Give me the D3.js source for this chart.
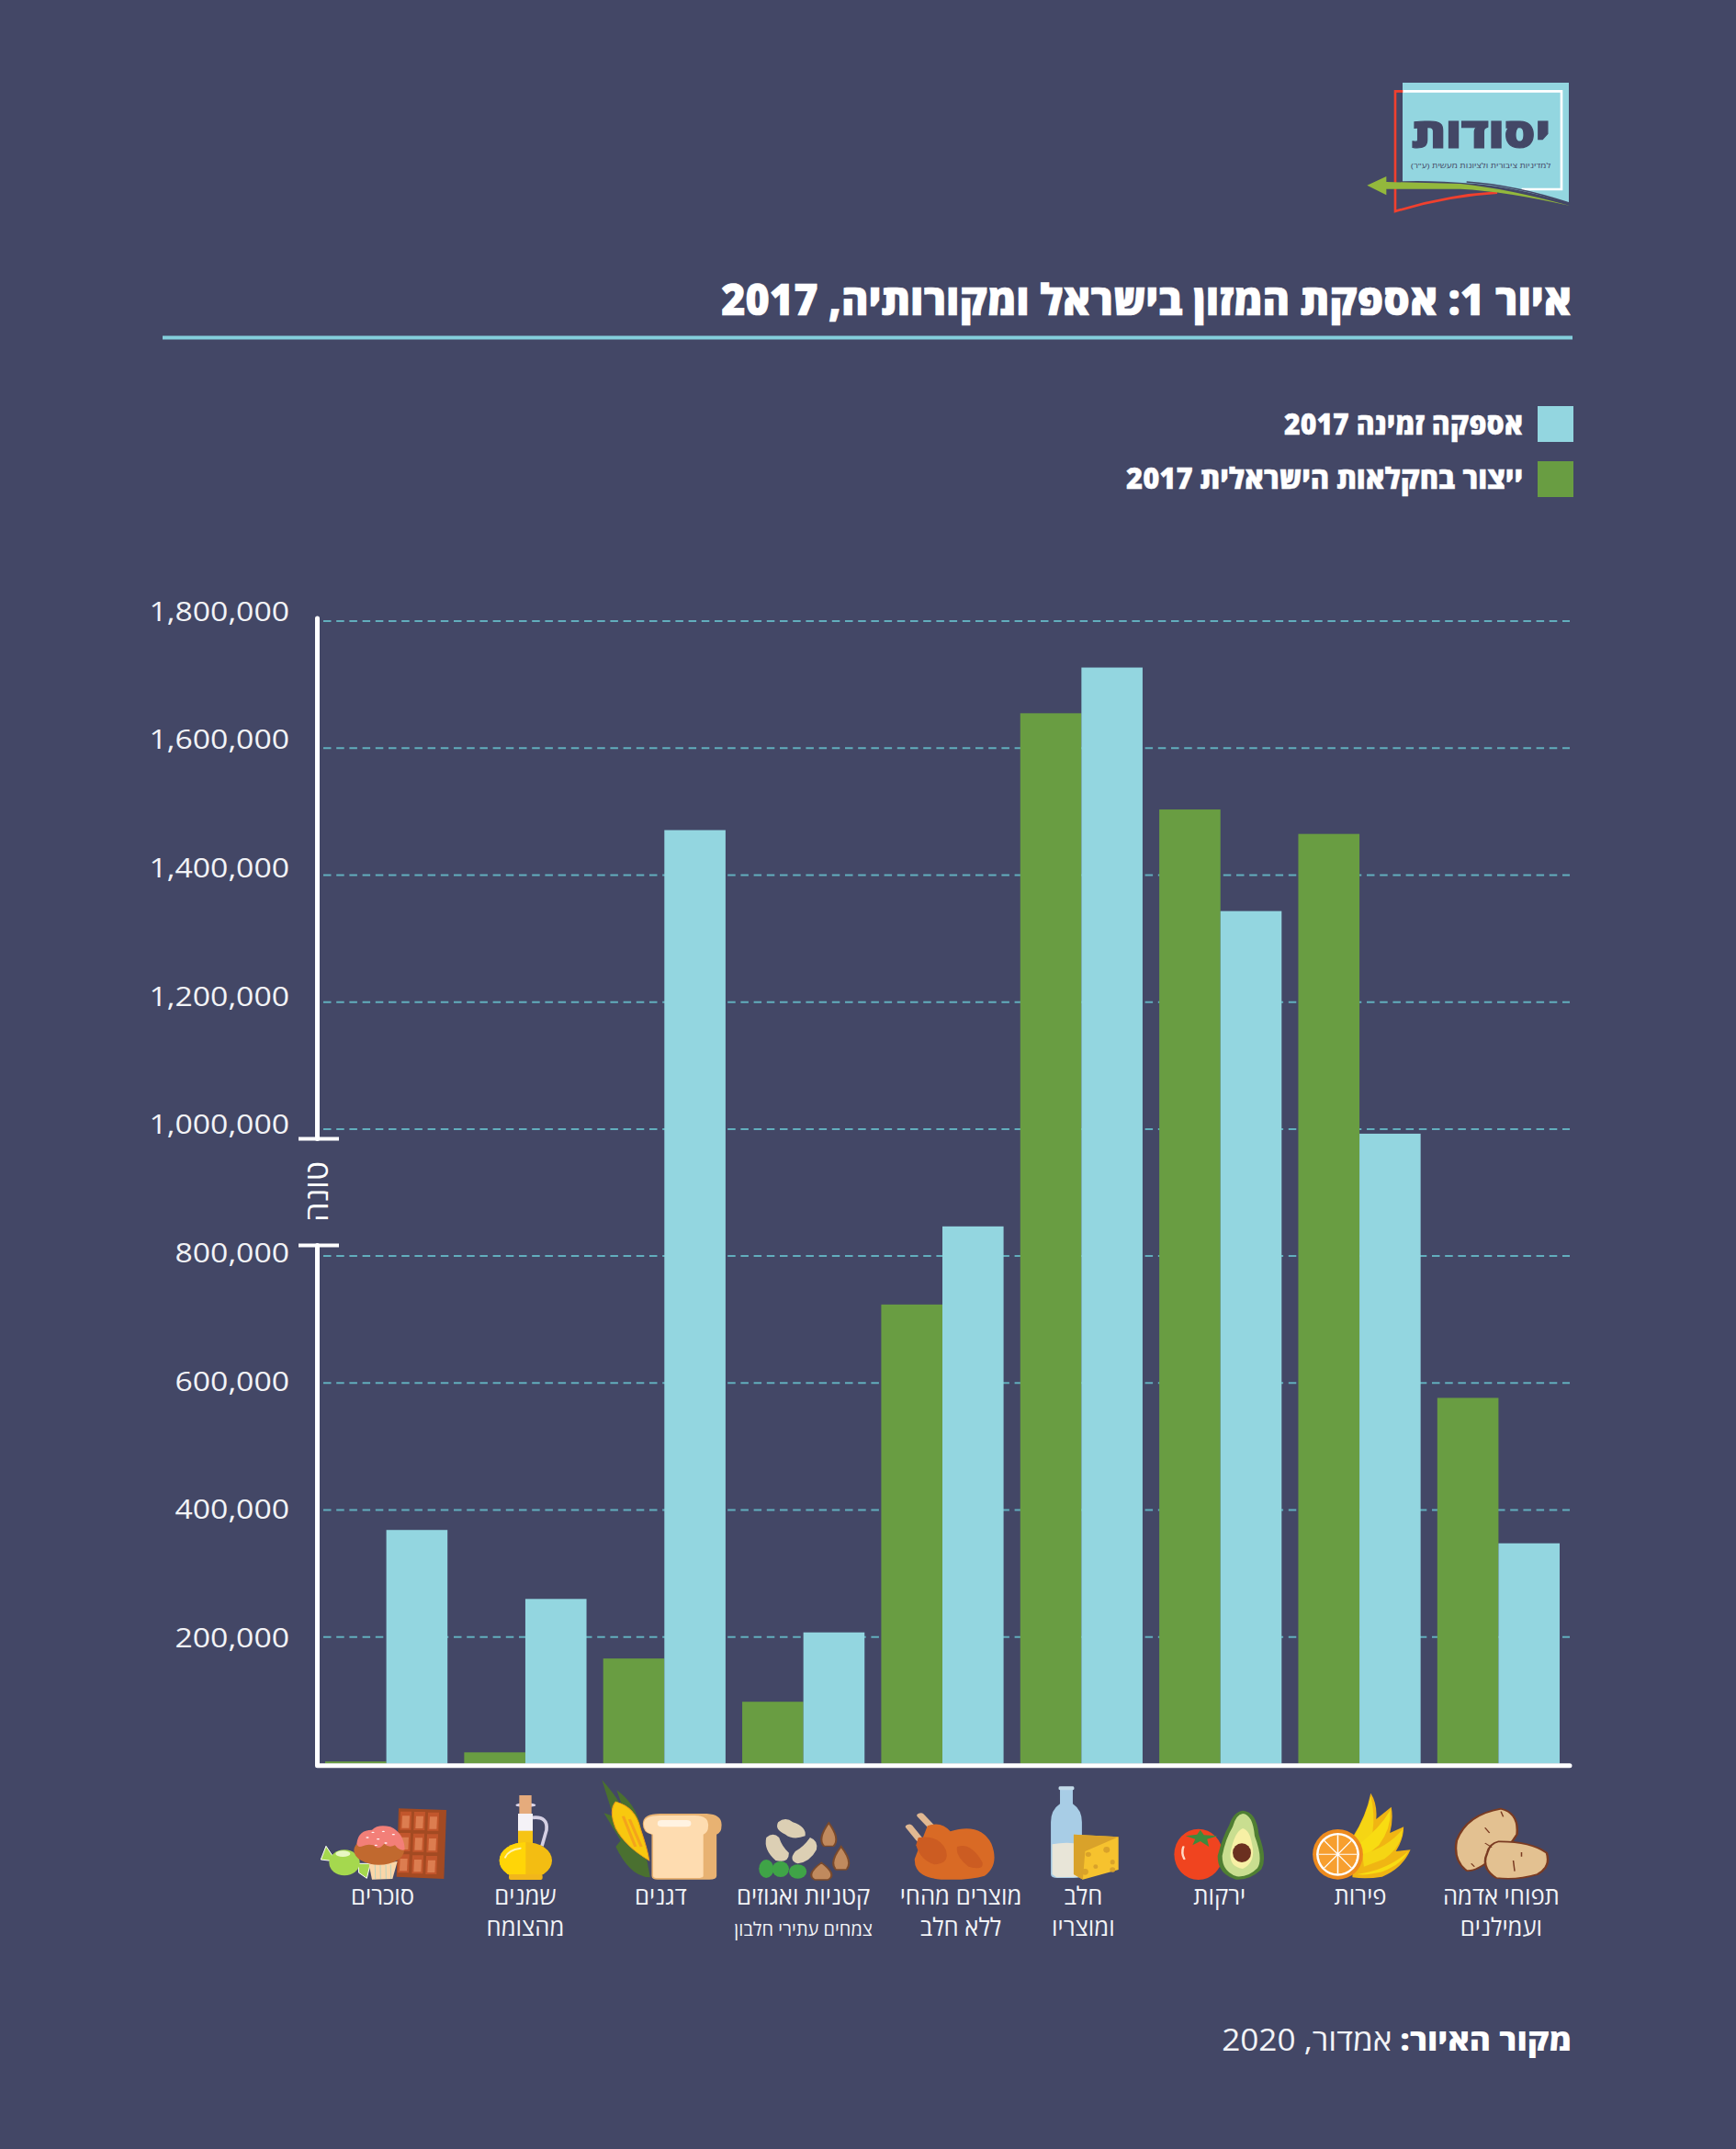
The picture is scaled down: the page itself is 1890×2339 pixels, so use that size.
<!DOCTYPE html>
<html lang="he"><head><meta charset="utf-8">
<script src="https://cdnjs.cloudflare.com/ajax/libs/d3/7.8.5/d3.min.js"></script>
<style>html,body{margin:0;padding:0;background:#434766}svg{display:block}text{font-family:"Open Sans",sans-serif}</style>
</head><body><svg id="c" width="1890" height="2339"></svg>
<script>
const categoryLines=[["סוכרים"],["שמנים","מהצומח"],["דגנים"],["קטניות ואגוזים"],["מוצרים מהחי","ללא חלב"],["חלב","ומוצריו"],["ירקות"],["פירות"],["תפוחי אדמה","ועמילנים"]];
const categorySub=[null,null,null,"צמחים עתירי חלבון",null,null,null,null,null];
const production=[3500,17800,165600,97500,723000,1654000,1502500,1464000,576000];
const supply=[368000,259400,1470000,206700,846000,1726000,1342500,992000,347000];
const tickValues=[200000,400000,600000,800000,1000000,1200000,1400000,1600000,1800000];
const labelShift=[-4,0,-4,0,20,2,-1,1,3];
const C={bg:"#434766",blue:"#93d6e0",green:"#699d42",grid:"#62aebd",white:"#ffffff",text:"#f2f3f6"};

const svg=d3.select("#c");
svg.append("rect").attr("width",1890).attr("height",2339).attr("fill",C.bg);

const y=d3.scaleLinear().domain([0,1800000]).range([1919.6,675.4]);
// the printed tick labels drift slightly from the grid in the source artwork
const yLabel=d3.scaleLinear().domain([200000,1800000]).range([1792.6,675]);
const x0=d3.scaleBand().domain(d3.range(categoryLines.length)).range([354,1698]).paddingInner(0.12).paddingOuter(0);
const x1=d3.scaleBand().domain(["production","supply"]).range([0,x0.bandwidth()]);

function put(parent,x,yy,str,o={}){
  const t=parent.append("text").attr("direction",o.ltr?"ltr":"rtl").attr("text-anchor",o.anchor||"start")
    .attr("font-size",o.size).attr("font-weight",o.weight||400).attr("fill",o.fill||C.text).text(str);
  if(o.stroke) t.attr("stroke",o.fill||C.text).attr("stroke-width",o.stroke);
  let sx=o.sx||1;
  if(o.width){sx=o.width/t.node().getComputedTextLength();}
  const rot=o.rot?` rotate(${o.rot})`:"";
  t.attr("transform",`translate(${x},${yy})${rot} scale(${sx},${o.sy||1})`);
  return t;
}

// header
put(svg,1711,343,"איור 1: אספקת המזון בישראל ומקורותיה, 2017",{size:47,weight:800,width:926,fill:"#fff",stroke:0.7});
svg.append("rect").attr("x",177).attr("y",365.5).attr("width",1535).attr("height",4).attr("fill","#84cfdc");

// legend
const legendItems=[["אספקה זמינה 2017",C.blue,442,472.7,260],["ייצור בחקלאות הישראלית 2017",C.green,502,531.7,432]];
legendItems.forEach(d=>{
  svg.append("rect").attr("x",1674).attr("y",d[2]).attr("width",39).attr("height",39).attr("fill",d[1]);
  put(svg,1658,d[3],d[0],{size:32,weight:800,width:d[4],fill:"#fff",stroke:0.4});
});

// grid + tick labels through the d3 axis
const axis=d3.axisLeft(y).tickValues(tickValues).tickFormat(d3.format(",")).tickSize(-1357).tickPadding(0);
const ag=svg.append("g").attr("transform","translate(352,0)").call(axis);
ag.select(".domain").remove();
ag.selectAll(".tick line").attr("stroke",C.grid).attr("stroke-width",2).attr("stroke-dasharray","8.5 5.7");
ag.selectAll(".tick text").attr("fill",C.text).attr("font-size",30).attr("font-family",'"Open Sans"').attr("dy",0).attr("x",0).attr("y",0)
  .attr("text-anchor","end").attr("transform",v=>`translate(-37,${yLabel(v)-y(v)}) scale(1.125,1)`);

// bars
const groups=svg.selectAll("g.grp").data(categoryLines.map((_,i)=>i)).join("g").attr("class","grp").attr("transform",i=>`translate(${x0(i)},0)`);
groups.append("rect").attr("x",x1("production")).attr("width",x1.bandwidth()).attr("y",i=>y(production[i])).attr("height",i=>y(0)-y(production[i])).attr("fill",C.green);
groups.append("rect").attr("x",x1("supply")).attr("width",x1.bandwidth()).attr("y",i=>y(supply[i])).attr("height",i=>y(0)-y(supply[i])).attr("fill",C.blue);

// axes lines
const axisG=svg.append("g").attr("stroke","#fff").attr("fill","none");
axisG.append("path").attr("d","M345.5,673V1239.6M345.5,1355.5V1921.7H1709").attr("stroke-width",5).attr("stroke-linecap","round").attr("stroke-linejoin","round");
axisG.append("path").attr("d","M325,1239.6H369M325,1355.5H369").attr("stroke-width",4);
put(svg,344,1297,"טונה",{size:34,anchor:"middle",width:66,rot:-90,fill:"#fff"}).attr("dominant-baseline","central");

// category labels
categoryLines.forEach((lines,i)=>{
  const cx=x0(i)+x0.bandwidth()/2+labelShift[i];
  lines.forEach((l,k)=>put(svg,cx,2072.7+k*34.5,l,{size:27,anchor:"middle",sx:.95}));
  if(categorySub[i]) put(svg,cx,2107,categorySub[i],{size:20,anchor:"middle",sx:1});
});

// footer
const f=svg.append("text").attr("direction","rtl").attr("text-anchor","start").attr("font-size",33).attr("fill",C.text);
f.append("tspan").attr("font-weight",800).attr("fill","#fff").text("מקור האיור: ");
f.append("tspan").attr("font-weight",400).text("אמדור, 2020");
f.attr("transform",`translate(1711,2231.7) scale(${381/f.node().getComputedTextLength()},1)`);

// logo (authored in a 3x local frame)
const L=svg.append("g").attr("transform","translate(1450,60) scale(0.33333)");
L.append("path").attr("d","M231,90H774V482Q600,432 470,420Q320,408 231,412Z").attr("fill",C.blue);
L.append("path").attr("d","M231,118H750V438H620").attr("fill","none").attr("stroke","#fff").attr("stroke-width",8);
L.append("path").attr("d","M232,118H207V510Q380,458 540,449").attr("fill","none").attr("stroke","#f0402e").attr("stroke-width",8);
L.append("path").attr("d","M778,484Q600,425 440,414").attr("fill","none").attr("stroke","#434766").attr("stroke-width",5);
L.append("path").attr("d","M778,492Q570,435 420,420L178,414V396L115,425L178,457V437L420,437Q570,445 778,492Z").attr("fill","#93b83c");
put(L,714,303,"יסודות",{size:125,weight:800,width:454,sy:1.1,fill:"#434766",stroke:3});
put(L,715,369,"למדיניות ציבורית ולציונות מעשית (ע\"ר)",{size:24,width:457,fill:"#434766"});

// icons: small decorative drawings
const Z2="translate(140,1900) scale(0.53571,0.33333)", Z3="translate(960,1900) scale(0.49749,0.33333)", Z9="translate(340,1950) scale(0.33333)";
const I2=svg.append("g").attr("transform",Z2), I3=svg.append("g").attr("transform",Z3), I9=svg.append("g").attr("transform",Z9);
const p=(g,d,fill,extra={})=>{const e=g.append("path").attr("d",d).attr("fill",fill);for(const k in extra)e.attr(k,extra[k]);return e;};
const el=(g,cx,cy,rx,ry,fill,extra={})=>{const e=g.append("ellipse").attr("cx",cx).attr("cy",cy).attr("rx",rx).attr("ry",ry).attr("fill",fill);for(const k in extra)e.attr(k,extra[k]);return e;};

// chocolate
p(I9,"M282,55L438,60L430,285L275,278Z","#a34a22");
[[288,65],[333,66],[378,68],[285,135],[330,137],[375,139],[281,205],[327,208],[372,210]].forEach(c=>{
  p(I9,`M${c[0]},${c[1]}h36l-2,60h-36Z`,"#c2562c");
  p(I9,`M${c[0]+6},${c[1]+14}h24l-2,40h-24Z`,"#dc7d50");
});
// candy
p(I9,"M45,178L28,222L78,228Z","#a5d84e",{stroke:"#fff","stroke-width":3});
p(I9,"M150,235L190,235L178,283L152,265Z","#a5d84e",{stroke:"#fff","stroke-width":3});
el(I9,105,232,50,42,"#a5d84e");
el(I9,100,203,24,10,"#e8f7c4");
// muffin
p(I9,"M185,238L278,228L262,285L195,287Z","#fad6a8");
[205,222,240,256].forEach(xx=>p(I9,`M${xx},238L${xx+1},285`,"none",{stroke:"#9ccfc4","stroke-width":2}));
el(I9,218,192,82,47,"#c1692f");
p(I9,"M145,170Q150,125 195,125Q215,105 255,115Q300,135 302,190Q285,195 270,175Q250,185 235,170Q215,195 200,175Q180,170 165,178Q150,185 145,170Z","#f37f78");
[[180,150],[215,155],[232,130],[198,133],[265,140],[240,168],[208,175]].forEach(s=>el(I9,s[0],s[1],5,2,"#fff"));

// oil
p(I9,"M720,85Q770,80 765,125L750,178","none",{stroke:"#d5d0e4","stroke-width":11});
I9.append("rect").attr("x",672).attr("y",72).attr("width",48).attr("height",60).attr("fill","#f4f2f7");
I9.append("rect").attr("x",672).attr("y",128).attr("width",48).attr("height",50).attr("fill","#f6c414");
el(I9,697,225,86,60,"#f3bd12");
p(I9,"M697,165A86,60 0 0 0 697,285Z","#ffd507");
I9.append("rect").attr("x",642).attr("y",270).attr("width",110).attr("height",18).attr("rx",6).attr("fill","#f1b61b");
el(I9,697,44,33,7,"#dcd6ea");
I9.append("rect").attr("x",676).attr("y",12).attr("width",40).attr("height",60).attr("fill","#e5ab7c");
p(I9,"M630,215Q640,190 680,185","none",{stroke:"#fff3b0","stroke-width":6,"stroke-linecap":"round"});

// corn + bread
p(I2,"M962,112Q1000,180 1010,230L992,145Q1030,190 1040,260L1060,430Q1020,430 990,330L1000,310L966,220L985,230Z","#4a7030");
p(I2,"M990,183Q1030,200 1040,270Q1055,340 1058,375Q1010,330 990,270Q975,210 990,183Z","#f8c80f",{stroke:"#f09a1a","stroke-width":2});
p(I2,"M1005,230L1030,330M1018,240L1042,330","none",{stroke:"#f4a41c","stroke-width":6});
p(I2,"M1045,255Q1045,222 1080,222L1175,222Q1207,225 1205,262Q1205,285 1195,290L1195,425Q1195,437 1180,437L1075,437Q1063,437 1063,425L1063,290Q1045,285 1045,255Z","#e8b272");
p(I2,"M1047,255Q1047,228 1080,228L1150,228Q1180,228 1178,262Q1178,285 1168,290L1168,425Q1168,432 1155,432L1075,432Q1066,432 1066,425L1066,290Q1047,285 1047,255Z","#fedcb0");
I2.append("rect").attr("x",1075).attr("y",243).attr("width",68).attr("height",22).attr("rx",9).attr("fill","#fff3e2");

// legumes and nuts
p(I2,"M1320,250Q1335,230 1350,250Q1378,265 1375,295Q1350,310 1335,290Q1312,275 1320,250Z","#dccfb4");
p(I2,"M1296,300Q1310,280 1322,300Q1328,330 1342,350Q1342,385 1315,375Q1290,340 1296,300Z","#dccfb4");
p(I2,"M1385,300Q1402,310 1398,340Q1385,380 1360,385Q1340,375 1355,345Q1372,330 1385,300Z","#dccfb4");
el(I2,1296,402,15,30,"#3fa447");el(I2,1325,403,17,26,"#3fa447");el(I2,1360,411,18,23,"#3fa447");
[[1423,290,16,38],[1448,367,17,38],[1408,410,22,28]].forEach(a=>p(I2,`M${a[0]},${a[1]-a[3]}Q${a[0]+a[2]*1.5},${a[1]+a[3]*.4} ${a[0]+a[2]*.6},${a[1]+a[3]}H${a[0]-a[2]*.6}Q${a[0]-a[2]*1.5},${a[1]+a[3]*.4} ${a[0]},${a[1]-a[3]}Z`,"#c08a5e",{stroke:"#7a4a2c","stroke-width":4}));

// chicken
p(I3,"M60,265L82,305M85,228L112,270","none",{stroke:"#e0b892","stroke-width":16,"stroke-linecap":"round"});
p(I3,"M100,262Q130,245 150,280Q215,250 240,320Q258,390 225,425Q195,440 130,437Q70,430 72,370Q85,320 100,262Z","#d96a25");
p(I3,"M80,300Q125,290 140,340Q150,385 115,388Q85,375 75,325Z","#cc5c22");
p(I3,"M165,330Q195,315 220,380Q225,410 190,395Q160,360 165,330Z","#cc5c22");

// milk + cheese
p(I3,"M390,135L418,135L418,190Q438,210 438,250L438,420Q438,432 420,432L385,432Q370,432 370,420L370,250Q370,210 390,190Z","#a8cde6");
p(I3,"M373,322Q405,312 436,322L436,428L382,430L373,420Z","#e8e5d8");
I3.append("rect").attr("x",387).attr("y",133).attr("width",34).attr("height",12).attr("rx",4).attr("fill","#c3dbe9");
p(I3,"M420,290L518,298L518,405L440,437L420,420Z","#f6c22e");
p(I3,"M420,290L518,298L445,345L440,437L420,420Z","#d9a22a");
[[452,355,6,8],[492,340,7,10],[468,395,5,7],[445,412,7,10],[505,380,5,8],[505,405,6,8]].forEach(h=>el(I3,h[0],h[1],h[2],h[3],"#d9a22a"));

// tomato + avocado
el(I3,693,355,53,83,"#f0441f");
p(I3,"M697,275L705,292L735,295L712,305L716,330L697,312L680,325L686,305L665,295L690,290Z","#3f8a3c");
p(I3,"M660,330Q655,350 662,370","none",{stroke:"#ffd9c4","stroke-width":5,"stroke-linecap":"round"});
p(I3,"M790,212Q820,215 825,290Q845,370 830,405Q805,440 775,437Q735,420 735,360Q745,300 760,260Q770,215 790,212Z","#4f7f33");
p(I3,"M790,222Q812,225 816,295Q835,370 822,400Q803,430 777,427Q745,412 745,360Q752,305 768,265Q775,225 790,222Z","#c9de90");
p(I3,"M790,270Q805,275 810,320Q820,380 790,402Q760,395 763,350Q772,280 790,270Z","#f7f0a5");
el(I3,788,350,20,31,"#6b3020");

// banana + orange
p(I3,"M1030,300Q1060,230 1070,155Q1085,190 1082,240L1115,200Q1120,240 1112,285L1142,265Q1142,305 1125,345L1157,340Q1140,400 1095,428Q1060,437 1030,430Z","#f0b513");
[["M1032,300Q1060,230 1070,165Q1080,220 1074,285L1050,340Z","#f5d514"],["M1045,320Q1090,270 1113,210Q1115,270 1088,325L1055,365Z","#f8dc12"],["M1052,355Q1110,330 1140,272Q1140,325 1100,370L1055,395Z","#f5d514"],["M1040,420Q1110,405 1152,345Q1140,385 1095,412Q1060,425 1040,420Z","#f8dc12"]].forEach(b=>p(I3,b[0],b[1]));
el(I3,998,355,55,82,"#ed8b1e");
el(I3,998,355,47,70,"#fff");
el(I3,998,355,42,63,"#f79f2f");
p(I3,"M998,292V418M956,355H1040M968,310L1028,400M1028,310L968,400","none",{stroke:"#fff","stroke-width":3});

// potatoes
p(I3,"M1355,206Q1395,220 1390,290Q1375,330 1335,370Q1300,412 1280,408Q1250,375 1258,310Q1280,225 1355,206Z","#e3c191",{stroke:"#7a3b22","stroke-width":5});
p(I3,"M1350,313Q1420,312 1455,350Q1465,395 1435,420Q1390,440 1345,432Q1310,400 1325,350Q1330,320 1350,313Z","#e3c191",{stroke:"#7a3b22","stroke-width":5});
p(I3,"M1320,268L1330,285M1355,215L1360,232M1320,318L1335,332M1382,375L1385,410M1400,348V362M1290,385L1297,395","none",{stroke:"#7a3b22","stroke-width":3});
</script></body></html>
